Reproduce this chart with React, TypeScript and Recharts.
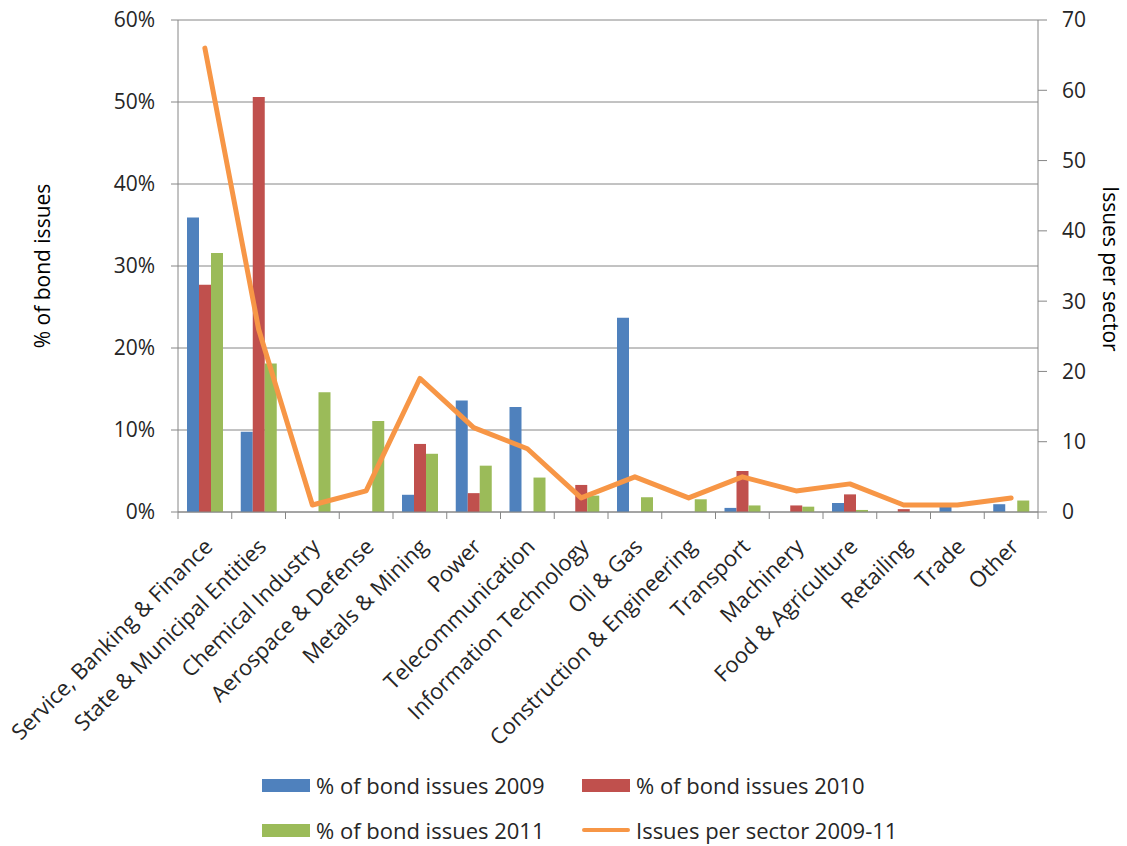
import React from 'react';
import { ComposedChart, Bar, Line, XAxis, YAxis, CartesianGrid, Legend } from 'recharts';

const sectors = [
  'Service, Banking & Finance',
  'State & Municipal Entities',
  'Chemical Industry',
  'Aerospace & Defense',
  'Metals & Mining',
  'Power',
  'Telecommunication',
  'Information Technology',
  'Oil & Gas',
  'Construction & Engineering',
  'Transport',
  'Machinery',
  'Food & Agriculture',
  'Retailing',
  'Trade',
  'Other',
];

// % of bond issues per year
const share2009 = [35.9, 9.8, 0, 0, 2.1, 13.6, 12.8, 0, 23.7, 0, 0.5, 0, 1.1, 0, 0.75, 0.95];
const share2010 = [27.7, 50.6, 0, 0, 8.3, 2.3, 0, 3.3, 0, 0, 5.0, 0.8, 2.15, 0.35, 0, 0];
const share2011 = [31.6, 18.1, 14.6, 11.1, 7.1, 5.65, 4.2, 2.0, 1.8, 1.55, 0.8, 0.65, 0.25, 0, 0, 1.4];

// number of issues per sector, 2009-11
const issuesPerSector = [66, 26, 1, 3, 19, 12, 9, 2, 5, 2, 5, 3, 4, 1, 1, 2];

const percentTicks = [0, 10, 20, 30, 40, 50, 60];
const countTicks = [0, 10, 20, 30, 40, 50, 60, 70];

const data = sectors.map((sector, i) => ({
  sector,
  y2009: share2009[i],
  y2010: share2010[i],
  y2011: share2011[i],
  issues: issuesPerSector[i],
}));

const W = 1127;
const H = 846;
const LEFT_W = 178;
const RIGHT_W = 89;
const TOP = 20;
const XAXIS_H = 334;
const PLOT_W = W - LEFT_W - RIGHT_W;
const BAND = PLOT_W / sectors.length;
const FONT = '"Open Sans", sans-serif';
const FS = 21;
const FS_CAT = 22;
const AXIS = '#868686';
const TEXT = '#262626';

const BLUE = '#4F81BD';
const RED = '#C0504D';
const GREEN = '#9BBB59';
const ORANGE = '#F79646';

const legendItems = [
  { label: '% of bond issues 2009', color: BLUE, kind: 'bar' },
  { label: '% of bond issues 2010', color: RED, kind: 'bar' },
  { label: '% of bond issues 2011', color: GREEN, kind: 'bar' },
  { label: 'Issues per sector 2009-11', color: ORANGE, kind: 'line' },
];

function SectorTick(props: any) {
  const { x, y, payload } = props;
  const last = payload.value === sectors[sectors.length - 1];
  const ax = x + 9;
  const ay = y + 36;
  return (
    <g>
      <line x1={x - BAND / 2} x2={x - BAND / 2} y1={y} y2={y + 7} stroke={AXIS} />
      {last && <line x1={x + BAND / 2} x2={x + BAND / 2} y1={y} y2={y + 7} stroke={AXIS} />}
      <text
        x={ax}
        y={ay}
        textAnchor="end"
        fontSize={FS_CAT}
        fill={TEXT}
        fontFamily={FONT}
        transform={`rotate(-45, ${ax}, ${ay})`}
      >
        {payload.value}
      </text>
    </g>
  );
}

function LegendBlock() {
  return (
    <div
      style={{
        display: 'grid',
        gridTemplateColumns: '320px 340px',
        rowGap: 17,
        fontFamily: FONT,
        fontSize: FS_CAT,
        color: TEXT,
      }}
    >
      {legendItems.map((item) => (
        <div key={item.label} style={{ display: 'flex', alignItems: 'center', height: 28 }}>
          {item.kind === 'bar' ? (
            <span style={{ display: 'inline-block', width: 48, height: 13, background: item.color }} />
          ) : (
            <span style={{ display: 'inline-block', width: 48, height: 4, background: item.color, borderRadius: 2 }} />
          )}
          <span style={{ marginLeft: 6, whiteSpace: 'nowrap' }}>{item.label}</span>
        </div>
      ))}
    </div>
  );
}

export default function App() {
  return (
    <div style={{ position: 'absolute', left: 0, top: 0, width: W, height: H, background: '#fff' }}>
      <ComposedChart
        width={W}
        height={H}
        data={data}
        margin={{ top: TOP, right: 0, bottom: 0, left: 0 }}
        barGap={0}
        barSize={12}
      >
        <CartesianGrid yAxisId="left" vertical={false} stroke={AXIS} strokeWidth={1} />
        <XAxis
          dataKey="sector"
          interval={0}
          height={XAXIS_H}
          tickLine={false}
          tickSize={0}
          tickMargin={0}
          axisLine={{ stroke: AXIS }}
          tick={<SectorTick />}
        />
        <YAxis
          yAxisId="left"
          width={LEFT_W}
          domain={[0, 60]}
          ticks={percentTicks}
          tickFormatter={(v: number) => `${v}%`}
          axisLine={{ stroke: AXIS }}
          tickLine={{ stroke: AXIS }}
          tickSize={7}
          tickMargin={16}
          tick={{ fontSize: FS, fill: TEXT, fontFamily: FONT }}
          label={(p: any) => {
            const vb = p.viewBox;
            const cx = 42;
            const cy = vb.y + vb.height / 2;
            return (
              <text x={cx} y={cy} textAnchor="middle" dominantBaseline="central" fontSize={FS} fill="#000" fontFamily={FONT} transform={`rotate(-90, ${cx}, ${cy})`}>
                % of bond issues
              </text>
            );
          }}
        />
        <YAxis
          yAxisId="right"
          orientation="right"
          width={RIGHT_W}
          domain={[0, 70]}
          ticks={countTicks}
          axisLine={{ stroke: AXIS }}
          tickLine={{ stroke: AXIS }}
          tickSize={9}
          tickMargin={15}
          tick={{ fontSize: FS, fill: TEXT, fontFamily: FONT }}
          label={(p: any) => {
            const vb = p.viewBox;
            const cx = 1111;
            const cy = vb.y + vb.height / 2 + 3;
            return (
              <text x={cx} y={cy} textAnchor="middle" dominantBaseline="central" fontSize={FS} fill="#000" fontFamily={FONT} transform={`rotate(90, ${cx}, ${cy})`}>
                Issues per sector
              </text>
            );
          }}
        />
        <Bar yAxisId="left" dataKey="y2009" name="% of bond issues 2009" fill={BLUE} isAnimationActive={false} />
        <Bar yAxisId="left" dataKey="y2010" name="% of bond issues 2010" fill={RED} isAnimationActive={false} />
        <Bar yAxisId="left" dataKey="y2011" name="% of bond issues 2011" fill={GREEN} isAnimationActive={false} />
        <Line
          yAxisId="right"
          dataKey="issues"
          name="Issues per sector 2009-11"
          stroke={ORANGE}
          strokeWidth={5}
          dot={false}
          strokeLinejoin="round"
          strokeLinecap="round"
          isAnimationActive={false}
        />
        <Legend
          layout="horizontal"
          verticalAlign="middle"
          align="center"
          wrapperStyle={{ top: 771, left: 262, width: 680 }}
          content={() => <LegendBlock />}
        />
      </ComposedChart>
    </div>
  );
}
